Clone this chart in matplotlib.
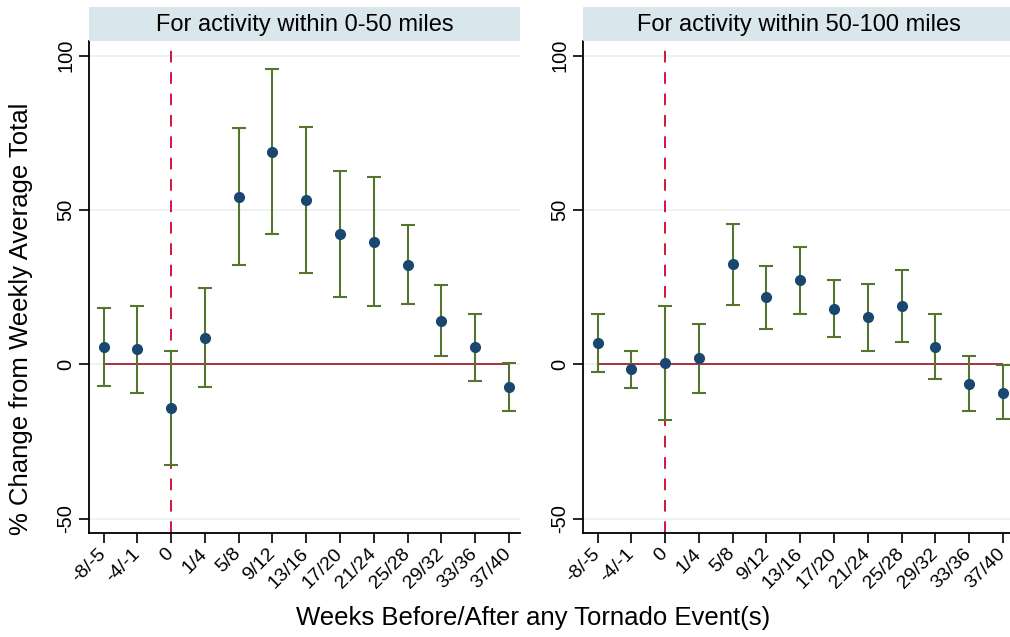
import matplotlib
matplotlib.use("Agg")
import matplotlib.pyplot as plt
from matplotlib.patches import Rectangle

plt.rcParams['font.family'] = ['Liberation Sans', 'DejaVu Sans']

labels = ["-8/-5", "-4/-1", "0", "1/4", "5/8", "9/12", "13/16", "17/20",
          "21/24", "25/28", "29/32", "33/36", "37/40"]

near_est = [5.7, 5.0, -14.2, 8.6, 54.3, 68.9, 53.2, 42.2, 39.7, 32.2, 14.1, 5.5, -7.4]
near_hi = [18.3, 18.9, 4.4, 24.6, 76.5, 95.7, 77.0, 62.6, 60.8, 45.1, 25.6, 16.2, 0.4]
near_lo = [-7.1, -9.2, -32.6, -7.4, 32.1, 42.3, 29.7, 21.7, 18.8, 19.5, 2.6, -5.3, -15.2]

far_est = [6.8, -1.6, 0.5, 1.9, 32.5, 21.7, 27.3, 18.0, 15.4, 18.9, 5.7, -6.4, -9.2]
far_hi = [16.2, 4.3, 19.0, 13.1, 45.4, 31.9, 38.0, 27.3, 26.1, 30.5, 16.2, 2.6, -0.3]
far_lo = [-2.5, -7.7, -18.0, -9.2, 19.3, 11.5, 16.4, 8.8, 4.3, 7.2, -4.8, -15.0, -17.8]

titles = ["For activity within 0-50 miles", "For activity within 50-100 miles"]
yticks = [-50, 0, 50, 100]
event_label = "0"

W, H = 1010, 637
fig = plt.figure(figsize=(W / 100, H / 100), dpi=100)

panels = [(near_est, near_lo, near_hi), (far_est, far_lo, far_hi)]
lefts = [89, 583]
ax_w = 431
top_px, bot_px = 41, 533
hdr_top = 7

for i, (est, lo, hi) in enumerate(panels):
    l = lefts[i] / W
    b = 1 - bot_px / H
    w = ax_w / W
    h = (bot_px - top_px) / H
    ax = fig.add_axes([l, b, w, h])
    x = list(range(len(labels)))
    ax.set_xlim(-0.43, 12.33)
    ax.set_ylim(-54.7, 104.8)
    for yv in yticks:
        ax.axhline(yv, color='#eaf0f3', lw=1.2, zorder=0)
    ax.hlines(0, 0, len(labels) - 1, color='#a8313a', lw=1.4, zorder=1)
    ev = labels.index(event_label)
    ax.axvline(ev, color='#d2143c', lw=1.4, dashes=(6, 5), zorder=1)
    yerr = [[e - a for e, a in zip(est, lo)], [c - e for e, c in zip(est, hi)]]
    ax.errorbar(x, est, yerr=yerr, fmt='none', ecolor='#55752f', elinewidth=1.5,
                capsize=5, capthick=1.5, zorder=2)
    ax.plot(x, est, 'o', color='#1a476f', markersize=7, zorder=3)
    ax.spines['top'].set_visible(False)
    ax.spines['right'].set_visible(False)
    ax.spines['left'].set_linewidth(1.3)
    ax.spines['bottom'].set_linewidth(1.3)
    ax.set_yticks(yticks)
    ax.set_yticklabels([str(v) for v in yticks], rotation=90, va='center', fontsize=14.5)
    ax.set_xticks(x)
    ax.set_xticklabels(labels, rotation=45, ha='right', va='center',
                       rotation_mode='anchor', fontsize=14)
    ax.tick_params(axis='both', length=7, width=1.2, direction='out', pad=3)
    ax.tick_params(axis='x', pad=6)

    hax = fig.add_axes([l, 1 - top_px / H, w, (top_px - hdr_top) / H])
    hax.set_xlim(0, 1)
    hax.set_ylim(0, 1)
    hax.axis('off')
    hax.add_patch(Rectangle((0, 0), 1, 1, facecolor='#d9e6eb', edgecolor='none'))
    hax.text(0.5, 0.48, titles[i], ha='center', va='center', fontsize=17)

fig.text(21 / W, 1 - 319 / H, "% Change from Weekly Average Total", rotation=90,
         ha='center', va='center', fontsize=18.5)
fig.text(533 / W, 1 - 618 / H, "Weeks Before/After any Tornado Event(s)",
         ha='center', va='center', fontsize=18.5)

fig.savefig("out.png", dpi=100, facecolor='white')
